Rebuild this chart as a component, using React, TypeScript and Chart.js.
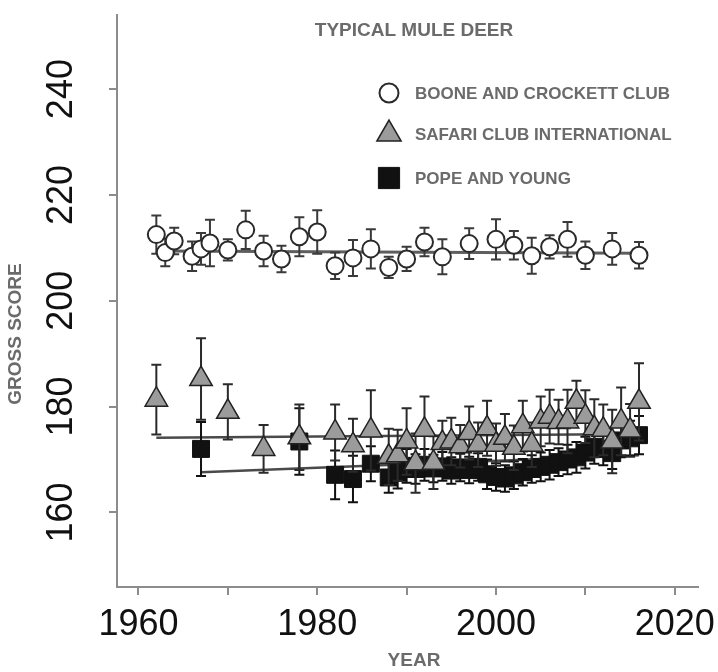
import React, { useEffect, useRef } from 'react';
import { Chart, registerables } from 'chart.js';
import { drawPoint } from 'chart.js/helpers';

Chart.register(...registerables);

// ---------- DATA ----------
const chartTitle = 'TYPICAL MULE DEER';
const xAxisTitle = 'YEAR';
const yAxisTitle = 'GROSS SCORE';

const xTickValues = [1960, 1970, 1980, 1990, 2000, 2010, 2020];
const yTickValues = [160, 180, 200, 220, 240];

// Boone and Crockett Club (open circles)
const bcLabel = 'BOONE AND CROCKETT CLUB';
const bcYears = [1962, 1963, 1964, 1966, 1967, 1968, 1970, 1972, 1974, 1976, 1978, 1980, 1982, 1984, 1986, 1988, 1990, 1992, 1994, 1997, 2000, 2002, 2004, 2006, 2008, 2010, 2013, 2016];
const bcMeans = [212.5, 209.1, 211.3, 208.4, 209.8, 210.9, 209.6, 213.4, 209.4, 207.9, 212.1, 213.0, 206.6, 208.1, 209.8, 206.3, 207.9, 211.1, 208.3, 210.8, 211.6, 210.5, 208.5, 210.2, 211.6, 208.6, 209.8, 208.6];
const bcErrors = [3.6, 2.6, 2.5, 2.8, 3.0, 4.4, 2.0, 3.6, 2.9, 2.5, 3.7, 4.1, 2.5, 3.4, 3.7, 2.0, 2.3, 2.7, 3.3, 2.9, 3.8, 2.7, 3.4, 2.2, 3.3, 2.6, 3.0, 2.5];
const bcFitYears = [1962, 2016];
const bcFitValues = [209.4, 209.0];

// Safari Club International (grey triangles)
const sciLabel = 'SAFARI CLUB INTERNATIONAL';
const sciYears = [1962, 1967, 1970, 1974, 1978, 1982, 1984, 1986, 1988, 1989, 1990, 1991, 1992, 1993, 1994, 1995, 1996, 1997, 1998, 1999, 2000, 2001, 2002, 2003, 2004, 2005, 2006, 2007, 2008, 2009, 2010, 2011, 2012, 2013, 2014, 2015, 2016];
const sciMeans = [181.3, 185.2, 179.0, 172.0, 174.2, 175.1, 172.7, 175.5, 170.5, 170.8, 173.4, 169.3, 175.6, 169.4, 173.1, 173.4, 172.5, 175.0, 172.8, 175.9, 172.8, 174.1, 172.2, 176.3, 172.8, 177.2, 178.1, 177.1, 177.2, 180.9, 178.1, 175.9, 175.6, 173.4, 177.2, 175.5, 180.9];
const sciErrors = [6.6, 7.7, 5.2, 4.5, 6.2, 5.3, 5.0, 7.6, 5.3, 4.8, 6.3, 5.6, 6.3, 5.0, 4.2, 4.5, 4.0, 5.0, 4.2, 5.2, 4.0, 4.5, 4.2, 4.8, 4.2, 4.7, 5.1, 4.2, 6.0, 4.0, 5.0, 5.5, 4.8, 6.0, 6.4, 5.0, 7.3];
const sciFitYears = [1962, 2016];
const sciFitValues = [174.1, 174.8];

// Pope and Young (black squares)
const pyLabel = 'POPE AND YOUNG';
const pyYears = [1967, 1978, 1982, 1984, 1986, 1988, 1989, 1990, 1991, 1992, 1993, 1994, 1995, 1996, 1997, 1998, 1999, 2000, 2001, 2002, 2003, 2004, 2005, 2006, 2007, 2008, 2009, 2010, 2011, 2012, 2013, 2014, 2015, 2016];
const pyMeans = [172.0, 173.4, 167.1, 166.3, 169.2, 166.6, 167.5, 168.8, 168.2, 169.0, 168.3, 168.7, 167.9, 168.5, 168.0, 168.6, 167.2, 166.7, 166.4, 167.0, 167.6, 168.2, 168.6, 169.0, 169.5, 170.0, 170.4, 171.3, 172.4, 172.0, 171.2, 173.6, 174.0, 174.6];
const pyErrors = [5.1, 6.3, 4.6, 4.4, 3.3, 2.9, 3.0, 3.2, 2.8, 3.0, 2.6, 2.7, 2.5, 2.6, 2.5, 2.6, 2.8, 2.6, 2.5, 2.6, 2.5, 2.6, 2.7, 2.8, 2.6, 2.8, 2.9, 3.0, 3.2, 3.1, 3.0, 3.2, 3.3, 3.6];
const pyFitYears = [1967, 2016];
const pyFitValues = [167.6, 170.8];

// ---------- STYLE ----------
const AXIS_GRAY = '#8c8c8c';
const TEXT_GRAY = '#6b6b6b';
const TICK_FONT = '"Liberation Sans", Arial, Helvetica, sans-serif';
const TITLE_FONT = 'bold 19px "Liberation Sans", Arial, sans-serif';
const LEGEND_FONT = 'bold 17px "Liberation Sans", Arial, sans-serif';

const toPoints = (xs: number[], ys: number[]) => xs.map((x, i) => ({ x, y: ys[i] }));

const errorBarPlugin = {
  id: 'errorBars',
  beforeDatasetDraw(chart: any, args: any) {
    const ds: any = chart.data.datasets[args.index];
    if (!ds.errorBars) return;
    const yScale = chart.scales.y;
    const ctx = chart.ctx;
    ctx.save();
    ctx.strokeStyle = ds.errorBarColor || '#333';
    ctx.lineWidth = 2;
    args.meta.data.forEach((el: any, i: number) => {
      const v = ds.data[i].y;
      const e = ds.errorBars[i];
      const x = el.x;
      const top = yScale.getPixelForValue(v + e);
      const bot = yScale.getPixelForValue(v - e);
      ctx.beginPath();
      ctx.moveTo(x, top);
      ctx.lineTo(x, bot);
      ctx.moveTo(x - 5, top);
      ctx.lineTo(x + 5, top);
      ctx.moveTo(x - 5, bot);
      ctx.lineTo(x + 5, bot);
      ctx.stroke();
    });
    ctx.restore();
  },
};

const overlayPlugin = {
  id: 'overlay',
  afterDraw(chart: any) {
    const ctx = chart.ctx;
    ctx.save();
    ctx.fillStyle = TEXT_GRAY;
    ctx.font = TITLE_FONT;
    ctx.textAlign = 'center';
    ctx.textBaseline = 'middle';
    ctx.fillText(chartTitle, 414, 31);
    ctx.fillText(xAxisTitle, 414, 661);
    ctx.save();
    ctx.translate(16, 334);
    ctx.rotate(-Math.PI / 2);
    ctx.fillText(yAxisTitle, 0, 0);
    ctx.restore();

    // legend
    const rows = [93, 134, 178];
    const legendSets = chart.data.datasets.filter((d: any) => d.inLegend);
    legendSets.forEach((ds: any, i: number) => {
      const y = rows[i];
      ctx.save();
      ctx.fillStyle = ds.backgroundColor;
      ctx.strokeStyle = ds.borderColor;
      ctx.lineWidth = ds.borderWidth;
      drawPoint(ctx, { pointStyle: ds.pointStyle, radius: ds.legendRadius, rotation: 0, borderWidth: ds.borderWidth } as any, 389, y);
      ctx.restore();
      ctx.fillStyle = TEXT_GRAY;
      ctx.font = LEGEND_FONT;
      ctx.textAlign = 'left';
      ctx.textBaseline = 'middle';
      ctx.fillText(ds.label, 415, y + 1);
    });
    ctx.restore();
  },
};

export default function App() {
  const canvasRef = useRef<HTMLCanvasElement | null>(null);

  useEffect(() => {
    if (!canvasRef.current) return;
    const fitLine = (xs: number[], ys: number[], color: string, width: number) => ({
      type: 'line' as const,
      data: toPoints(xs, ys),
      borderColor: color,
      borderWidth: width,
      pointRadius: 0,
      fill: false,
      order: 10,
    });

    const chart = new Chart(canvasRef.current, {
      type: 'scatter',
      data: {
        datasets: [
          {
            label: bcLabel,
            data: toPoints(bcYears, bcMeans),
            pointStyle: 'circle',
            pointRadius: 8.5,
            legendRadius: 9.5,
            backgroundColor: '#ffffff',
            borderColor: '#2a2a2a',
            borderWidth: 2,
            errorBars: bcErrors,
            errorBarColor: '#3a3a3a',
            inLegend: true,
            order: 1,
          } as any,
          {
            label: sciLabel,
            data: toPoints(sciYears, sciMeans),
            pointStyle: 'triangle',
            pointRadius: 13,
            legendRadius: 14,
            backgroundColor: '#9b9b9b',
            borderColor: '#222222',
            borderWidth: 1.5,
            errorBars: sciErrors,
            errorBarColor: '#2a2a2a',
            inLegend: true,
            order: 2,
          } as any,
          {
            label: pyLabel,
            data: toPoints(pyYears, pyMeans),
            pointStyle: 'rect',
            pointRadius: 12,
            legendRadius: 15,
            backgroundColor: '#111111',
            borderColor: '#111111',
            borderWidth: 1,
            errorBars: pyErrors,
            errorBarColor: '#111111',
            inLegend: true,
            order: 3,
          } as any,
          fitLine(bcFitYears, bcFitValues, '#5e5e5e', 3) as any,
          fitLine(sciFitYears, sciFitValues, '#4a4a4a', 2.5) as any,
          fitLine(pyFitYears, pyFitValues, '#4a4a4a', 2.5) as any,
        ],
      },
      options: {
        animation: false,
        responsive: false,
        events: [],
        layout: { padding: { top: 10, right: 20, left: 0, bottom: 0 } },
        plugins: {
          legend: { display: false },
          tooltip: { enabled: false },
          title: { display: false },
        },
        scales: {
          x: {
            type: 'linear',
            min: 1957.6,
            max: 2022.6,
            afterBuildTicks: (scale: any) => {
              scale.ticks = xTickValues.map((value) => ({ value }));
            },
            afterFit: (scale: any) => {
              scale.height = 85;
              scale.paddingLeft = 0;
              scale.paddingRight = 0;
            },
            grid: { display: true, drawOnChartArea: false, drawTicks: true, tickLength: 8, color: AXIS_GRAY, lineWidth: 2 },
            border: { display: true, color: AXIS_GRAY, width: 2 },
            ticks: {
              autoSkip: false,
              maxRotation: 0,
              minRotation: 0,
              padding: 8,
              color: '#111111',
              font: { family: TICK_FONT, size: 36 },
              callback: (v: any) => (Number(v) % 20 === 0 ? String(v) : ''),
            },
          },
          y: {
            type: 'linear',
            min: 145.9,
            max: 254.1,
            afterBuildTicks: (scale: any) => {
              scale.ticks = yTickValues.map((value) => ({ value }));
            },
            afterFit: (scale: any) => {
              scale.width = 117;
              scale.paddingTop = 0;
              scale.paddingBottom = 0;
            },
            grid: { display: true, drawOnChartArea: false, drawTicks: true, tickLength: 8, color: AXIS_GRAY, lineWidth: 2 },
            border: { display: true, color: AXIS_GRAY, width: 2 },
            ticks: {
              autoSkip: false,
              minRotation: 90,
              maxRotation: 90,
              crossAlign: 'center',
              padding: 17,
              color: '#111111',
              font: { family: TICK_FONT, size: 36 },
              callback: (v: any) => String(v),
            },
          },
        },
      } as any,
      plugins: [errorBarPlugin, overlayPlugin],
    });

    return () => chart.destroy();
  }, []);

  return (
    <div style={{ position: 'absolute', left: 0, top: 0, width: 718, height: 672, background: '#ffffff' }}>
      <canvas ref={canvasRef} width={718} height={672} style={{ width: 718, height: 672, display: 'block' }} />
    </div>
  );
}
